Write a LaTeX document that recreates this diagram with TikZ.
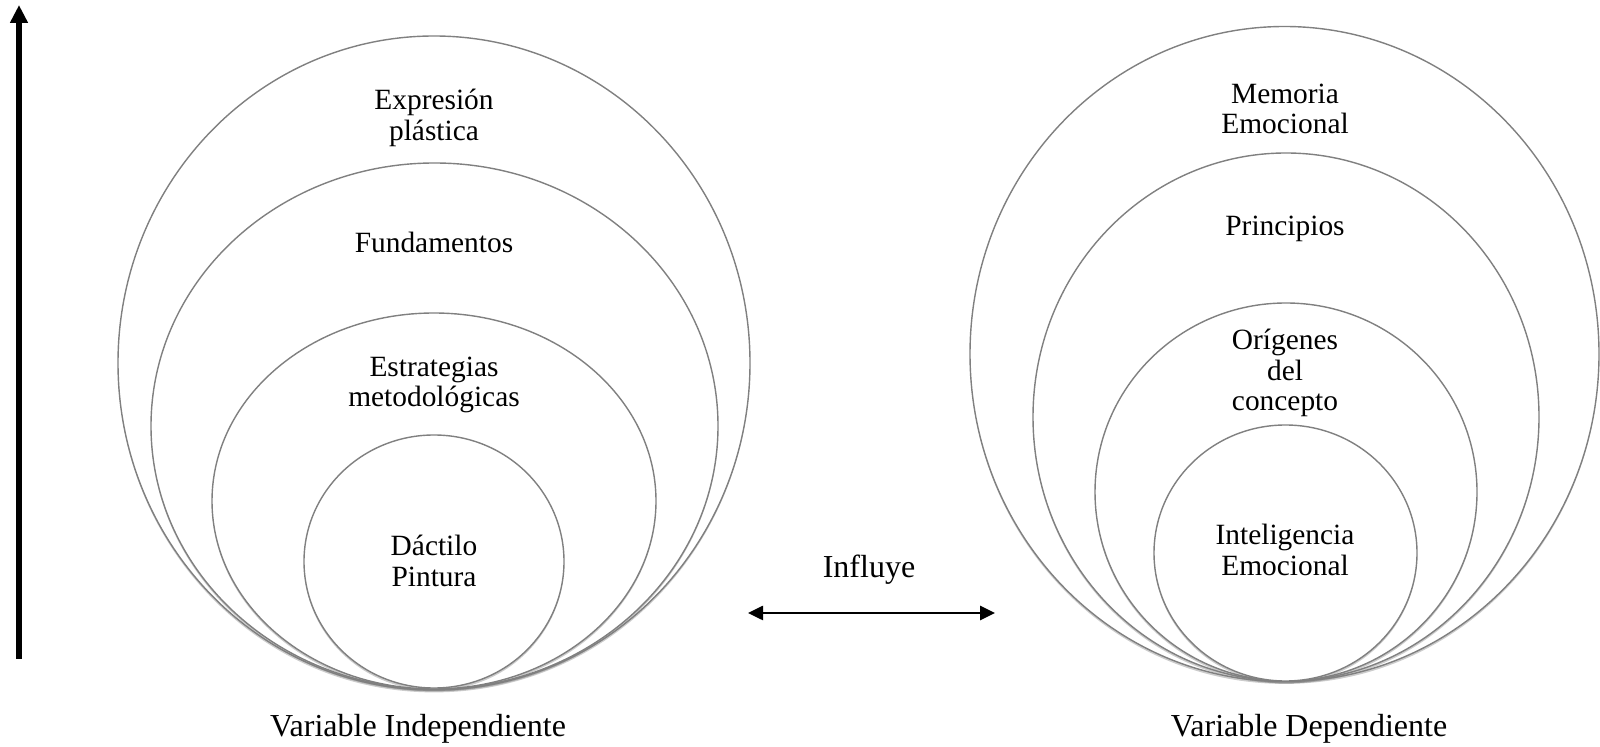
\documentclass[tikz,border=0pt]{standalone}
\usepackage{fontspec}
\setmainfont{Liberation Serif}
\usetikzlibrary{shapes.geometric,arrows.meta,shadows}
\begin{document}
\begin{tikzpicture}[x=0.5pt,y=-0.5pt,
  ring/.style={ellipse, draw=black!50, line width=0.7pt, fill=white, inner sep=0pt,
    drop shadow={shadow xshift=0pt, shadow yshift=-1.2pt, opacity=0.4}},
  lbl/.style={align=center, font=\fontsize{14.7}{15.25}\selectfont, inner sep=0pt},
  captext/.style={font=\fontsize{16}{19}\selectfont, inner sep=0pt},
  bigarrow/.style={line width=2.6pt, -{Triangle[length=9pt,width=8.5pt]}},
  twoway/.style={line width=1.3pt, {Triangle[length=7.5pt,width=7pt]}-{Triangle[length=7.5pt,width=7pt]}}
]
\useasboundingbox (0,0) rectangle (1600,747);

% left set
\node[ring, minimum width=316pt, minimum height=327pt] (L1) at (434,363) {};
\node[ring, minimum width=283.5pt, minimum height=263pt] (L2) at (434.5,426) {};
\node[ring, minimum width=222pt, minimum height=188pt] (L3) at (434,501) {};
\node[ring, minimum width=130pt, minimum height=126.5pt] (L4) at (434,561.5) {};

% right set
\node[ring, minimum width=314.5pt, minimum height=327.5pt] (R1) at (1284.5,354) {};
\node[ring, minimum width=253pt, minimum height=264pt] (R2) at (1286,417) {};
\node[ring, minimum width=191pt, minimum height=189pt] (R3) at (1286,492) {};
\node[ring, minimum width=131.5pt, minimum height=128pt] (R4) at (1285.5,553) {};

% texts
\node[lbl] (tE) at (434,118) {Expresión\\plástica};
\node[lbl] (tF) at (434,242) {Fundamentos};
\node[lbl] (tS) at (434,385) {Estrategias\\metodológicas};
\node[lbl] (tD) at (434,561) {Dáctilo\\Pintura};

\node[lbl] (tM) at (1285,109) {Memoria\\Emocional};
\node[lbl] (tP) at (1285,229) {Principios};
\node[lbl] (tO) at (1285,373) {Orígenes\\del\\concepto};
\node[lbl] (tI) at (1285,550) {Inteligencia\\Emocional};

\node[captext] (vi) at (418,729) {Variable Independiente};
\node[captext] (vd) at (1309,729) {Variable Dependiente};
\node[captext] (inf) at (869,570) {Influye};

% arrows
\coordinate (vb) at (19,659);
\coordinate (vt) at (19,5);
\draw[bigarrow] (vb) -- (vt);
\coordinate (ia) at (748,613);
\coordinate (ib) at (995,613);
\draw[twoway] (ia) -- (ib);
\end{tikzpicture}
\end{document}
